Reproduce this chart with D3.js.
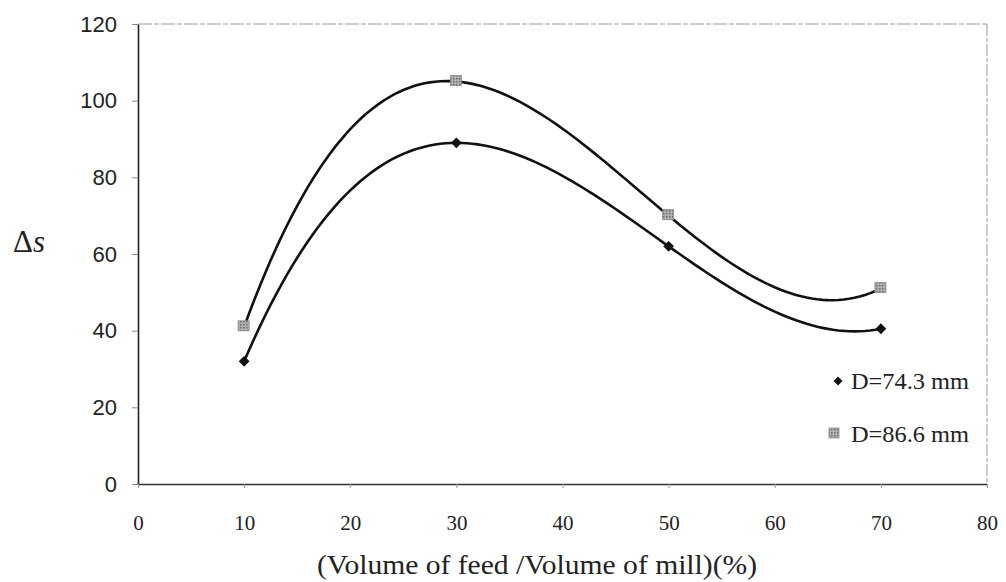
<!DOCTYPE html>
<html>
<head>
<meta charset="utf-8">
<script src="https://cdn.jsdelivr.net/npm/d3@7/dist/d3.min.js"></script>
<style>
  html, body { margin: 0; padding: 0; background: #fff; }
  svg { display: block; }
</style>
</head>
<body>
<svg id="chart" width="1006" height="582"></svg>
<script>
// Feed volume fraction (%) and the measured Δs for the two ball diameters
const feedRatio = [10, 30, 50, 70];
const seriesSmall = [32, 89, 62, 40.5];   // D=74.3 mm
const seriesLarge = [41, 105, 70, 51];    // D=86.6 mm
const seriesNames = ["D=74.3 mm", "D=86.6 mm"];
const xTicks = [0, 10, 20, 30, 40, 50, 60, 70, 80];
const yTicks = [0, 20, 40, 60, 80, 100, 120];

const svg = d3.select("#chart");
const plotL = 138, plotR = 987, plotT = 24, plotB = 484;

const x = d3.scaleLinear().domain([0, 80]).range([plotL, plotR]);
const y = d3.scaleLinear().domain([0, 120]).range([plotB, plotT]);

// hatched fill for the square markers
const defs = svg.append("defs");
const pat = defs.append("pattern").attr("id", "hatch")
  .attr("width", 3).attr("height", 3).attr("patternUnits", "userSpaceOnUse");
pat.append("rect").attr("width", 3).attr("height", 3).attr("fill", "#b0b0b0");
pat.append("rect").attr("width", 1.5).attr("height", 1.5).attr("fill", "#6a6a6a");

// plot frame: top and right edges are light
svg.append("line").attr("x1", plotL).attr("x2", plotR).attr("y1", plotT).attr("y2", plotT)
  .attr("stroke", "#9a9a9a").attr("stroke-width", 1).attr("stroke-dasharray", "14 2 5 2");
svg.append("line").attr("x1", plotR).attr("x2", plotR).attr("y1", plotT).attr("y2", plotB)
  .attr("stroke", "#9a9a9a").attr("stroke-width", 1).attr("stroke-dasharray", "12 2 4 2");

// y axis
const yAxis = svg.append("g").attr("transform", `translate(${plotL},0)`)
  .call(d3.axisLeft(y).tickValues(yTicks).tickSize(6).tickPadding(15).tickSizeOuter(0));
yAxis.select(".domain").attr("stroke", "#222").attr("stroke-width", 1.6);
yAxis.selectAll(".tick line").attr("stroke", "#888");
yAxis.selectAll("text").attr("font-family", "Liberation Sans, Arial, sans-serif")
  .attr("font-size", 22).attr("fill", "#222");

// x axis
const xAxis = svg.append("g").attr("transform", `translate(0,${plotB})`)
  .call(d3.axisBottom(x).tickValues(xTicks).tickSize(4).tickPadding(27).tickSizeOuter(0));
xAxis.select(".domain").attr("stroke", "#333").attr("stroke-width", 1.4);
xAxis.selectAll(".tick line").attr("stroke", "#999");
xAxis.selectAll("text").attr("font-family", "Liberation Serif, Times New Roman, serif")
  .attr("font-size", 21).attr("fill", "#222");

// axis titles
svg.append("text").attr("x", 537).attr("y", 574).attr("text-anchor", "middle")
  .attr("font-family", "Liberation Serif, Times New Roman, serif")
  .attr("font-size", 27).attr("fill", "#222")
  .attr("textLength", 440).attr("lengthAdjust", "spacingAndGlyphs")
  .text("(Volume of feed /Volume of mill)(%)");

const yt = svg.append("text").attr("x", 13).attr("y", 252)
  .attr("font-family", "Liberation Serif, Times New Roman, serif")
  .attr("font-size", 31).attr("fill", "#222");
yt.append("tspan").text("Δ");
yt.append("tspan").attr("font-style", "italic").text("s");

// cubic trendline passing through the four measured points
function polyThrough(xs, ys) {
  return function (t) {
    let s = 0;
    for (let i = 0; i < xs.length; i++) {
      let l = 1;
      for (let j = 0; j < xs.length; j++) if (j !== i) l *= (t - xs[j]) / (xs[i] - xs[j]);
      s += ys[i] * l;
    }
    return s;
  };
}
const line = d3.line().x(d => x(d[0])).y(d => y(d[1]));

[seriesSmall, seriesLarge].forEach(vals => {
  const f = polyThrough(feedRatio, vals);
  const xs = d3.range(feedRatio[0], feedRatio[feedRatio.length - 1] + 0.001, 0.5);
  svg.append("path").datum(xs.map(t => [t, f(t)]))
    .attr("d", line).attr("fill", "none")
    .attr("stroke", "#111").attr("stroke-width", 2.6);
});

// markers: rotated squares for the first series, hatched squares for the second
const diamond = d3.symbol().type(d3.symbolSquare).size(58);
svg.append("g").selectAll("path").data(feedRatio)
  .join("path")
  .attr("d", diamond)
  .attr("transform", (d, i) => `translate(${x(d)},${y(seriesSmall[i])}) rotate(45)`)
  .attr("fill", "#111");

svg.append("g").selectAll("rect").data(feedRatio)
  .join("rect")
  .attr("x", d => x(d) - 6).attr("y", (d, i) => y(seriesLarge[i]) - 6)
  .attr("width", 11).attr("height", 10)
  .attr("fill", "url(#hatch)").attr("stroke", "#8a8a8a").attr("stroke-width", 0.8);

// legend
const lg = svg.append("g");
lg.append("path").attr("d", d3.symbol().type(d3.symbolSquare).size(40))
  .attr("transform", "translate(838,381) rotate(45)").attr("fill", "#111");
lg.append("rect").attr("x", 829).attr("y", 428).attr("width", 10).attr("height", 10)
  .attr("fill", "url(#hatch)").attr("stroke", "#8a8a8a").attr("stroke-width", 0.8);
lg.selectAll("text.lab").data(seriesNames).join("text")
  .attr("class", "lab")
  .attr("x", 851).attr("y", (d, i) => 389 + i * 53)
  .attr("font-family", "Liberation Serif, Times New Roman, serif")
  .attr("font-size", 23).attr("fill", "#222")
  .attr("textLength", 118).attr("lengthAdjust", "spacingAndGlyphs")
  .text(d => d);
</script>
</body>
</html>
